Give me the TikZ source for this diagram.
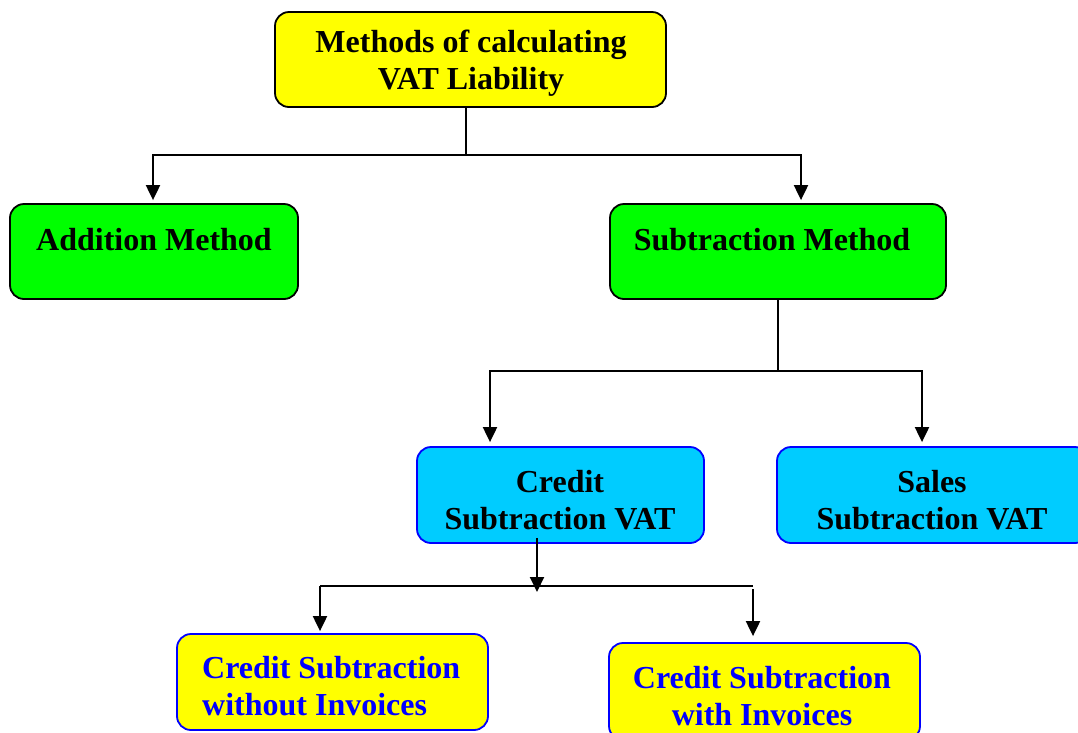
\documentclass[tikz,border=0pt]{standalone}
\usepackage{fontspec}
\setmainfont{Liberation Serif}
\usetikzlibrary{arrows.meta}
\definecolor{vyellow}{HTML}{FFFF00}
\definecolor{vgreen}{HTML}{00FF00}
\definecolor{vcyan}{HTML}{00CCFF}
\definecolor{vblue}{HTML}{0000FF}
\begin{document}
\begin{tikzpicture}[x=1pt,y=-1pt,
  box/.style={rectangle, rounded corners=14pt, line width=1.8pt, inner sep=0pt},
  blackbox/.style={box, draw=black},
  bluebox/.style={box, draw=vblue},
  txt/.style={align=center, font=\fontsize{32}{37}\selectfont\bfseries, inner sep=0pt},
  conn/.style={line width=2pt},
  arr/.style={conn, -{Triangle[width=14pt,length=15pt]}}]
\useasboundingbox (0,0) rectangle (1078,732);
% boxes
\node[blackbox, fill=vyellow, minimum width=391pt, minimum height=95pt] (top) at (470.5,59.5) {};
\node[txt] (topT) at (471,63) {Methods of calculating\\VAT Liability};
\node[blackbox, fill=vgreen, minimum width=288pt, minimum height=95pt] (add) at (154,251.5) {};
\node[txt] (addT) at (154,240) {Addition Method};
\node[blackbox, fill=vgreen, minimum width=336pt, minimum height=95pt] (sub) at (778,251.5) {};
\node[txt] (subT) at (772,240) {Subtraction Method};
\node[bluebox, fill=vcyan, minimum width=287pt, minimum height=96pt] (cred) at (560.5,495) {};
\node[txt] (credT) at (560,500) {Credit\\Subtraction VAT};
\node[bluebox, fill=vcyan, minimum width=312pt, minimum height=96pt] (sales) at (933,495) {};
\node[txt] (salesT) at (932,500) {Sales\\Subtraction VAT};
\node[bluebox, fill=vyellow, minimum width=311pt, minimum height=96pt] (cwo) at (332.5,682) {};
\node[txt, text=vblue, align=left, anchor=west] (cwoT) at (202,686) {Credit Subtraction\\without Invoices};
\node[bluebox, fill=vyellow, minimum width=311pt, minimum height=97pt] (cwi) at (764.5,691.5) {};
\node[txt, text=vblue] (cwiT) at (762,696) {Credit Subtraction\\with Invoices};
% connectors level 1
\coordinate (j1) at (466,155);
\draw[conn] ([xshift=-4.5pt]top.south) -- (j1);
\draw[arr] (j1) -| ([xshift=-1pt,yshift=3pt]add.north);
\draw[arr] (j1) -| ([xshift=23pt,yshift=3pt]sub.north);
% level 2
\coordinate (j2) at (778,371);
\draw[conn] (sub.south) -- (j2);
\draw[arr] (j2) -| ([xshift=-70.5pt,yshift=4pt]cred.north);
\draw[arr] (j2) -| ([xshift=-11pt,yshift=4pt]sales.north);
% level 3
\coordinate (j3l) at (320,585.5);
\coordinate (j3r) at (753,585.5);
\coordinate (j3d) at (753,589);
\coordinate (j3t) at (537,592);
\draw[arr] ([xshift=-23.5pt,yshift=6pt]cred.south) -- (j3t);
\draw[conn] (j3l) -- (j3r);
\draw[arr] (j3l) -- ([xshift=-12.5pt,yshift=2pt]cwo.north);
\draw[arr] (j3d) -- ([xshift=-11.5pt,yshift=6pt]cwi.north);
\end{tikzpicture}
\end{document}
